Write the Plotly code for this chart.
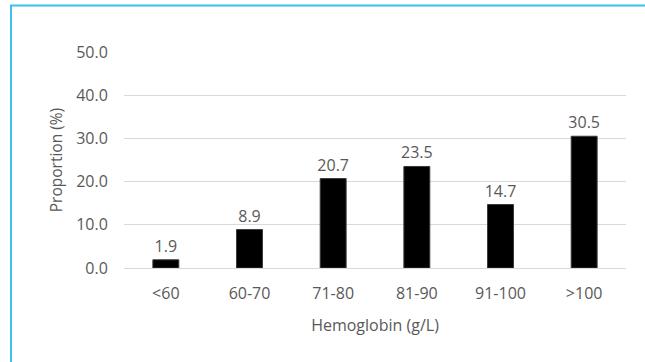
import plotly.graph_objects as go

categories = ["<60", "60-70", "71-80", "81-90", "91-100", ">100"]
proportions = [1.9, 8.9, 20.7, 23.5, 14.7, 30.5]
y_ticks = [0, 10, 20, 30, 40, 50]
y_tick_labels = ["0.0", "10.0", "20.0", "30.0", "40.0", "50.0"]

W, H = 645, 362
L, R, T, B = 124, 19, 52, 94
pw, ph = W - L - R, H - T - B

font_family = "Open Sans, Noto Sans, sans-serif"
gray = "#595959"

fig = go.Figure()
fig.add_trace(go.Bar(
    x=categories,
    y=proportions,
    text=[f"{v:.1f}" for v in proportions],
    textposition="outside",
    constraintext="none",
    textfont=dict(family=font_family, size=16, color=gray),
    marker=dict(color="black", line=dict(color="#3a3a3a", width=1)),
    cliponaxis=False,
    width=0.31,
))

def px_x(p):
    return (p - L) / pw

def px_y(p):
    return 1 - (p - T) / ph

border = "#3fc0e8"
fig.add_shape(type="line", xref="paper", yref="paper",
              x0=px_x(11), x1=px_x(11), y0=px_y(5.5), y1=px_y(H + 5),
              line=dict(color=border, width=2))
fig.add_shape(type="line", xref="paper", yref="paper",
              x0=px_x(10), x1=px_x(W + 5), y0=px_y(5.5), y1=px_y(5.5),
              line=dict(color=border, width=2))

fig.update_layout(
    width=W, height=H,
    margin=dict(l=L, r=R, t=T, b=B, autoexpand=False),
    paper_bgcolor="white",
    plot_bgcolor="white",
    showlegend=False,
    font=dict(family=font_family, color=gray),
    xaxis=dict(
        title=dict(text="Hemoglobin (g/L)", font=dict(size=16, color=gray), standoff=16),
        tickfont=dict(size=16, color=gray),
        showgrid=False,
        showline=False,
        ticks="outside",
        ticklen=11,
        tickcolor="rgba(0,0,0,0)",
    ),
    yaxis=dict(
        title=dict(text="Proportion (%)", font=dict(size=15.5, color=gray), standoff=9),
        range=[0, 50],
        tickvals=y_ticks,
        ticktext=y_tick_labels,
        tickfont=dict(size=16, color=gray),
        showgrid=True,
        gridcolor="#d9d9d9",
        gridwidth=1,
        zeroline=True,
        zerolinecolor="#d9d9d9",
        zerolinewidth=1,
        showline=False,
        ticks="outside",
        ticklen=12,
        tickcolor="rgba(0,0,0,0)",
    ),
)

fig.write_html("out.html", config={"displayModeBar": False},
               post_script="document.body.style.margin='0px';")
